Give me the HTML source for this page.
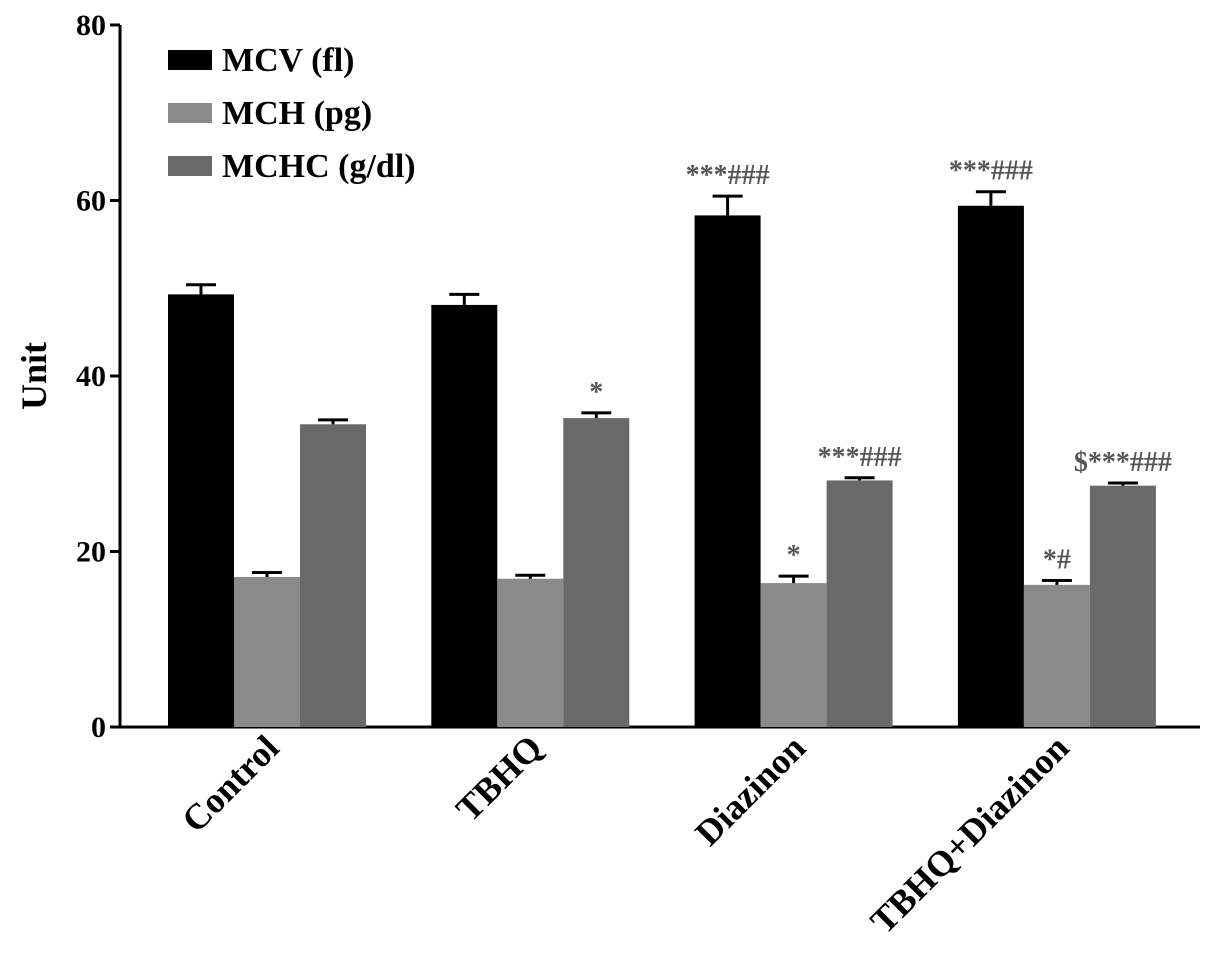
<!DOCTYPE html>
<html><head><meta charset="utf-8"><style>
body{margin:0;background:#fff}
svg text{font-family:"Liberation Serif",serif;font-weight:bold}
</style></head><body>
<svg id="chart" width="1205" height="956" xmlns="http://www.w3.org/2000/svg"></svg>
<script>
const categories=["Control","TBHQ","Diazinon","TBHQ+Diazinon"];
const seriesNames=["MCV (fl)","MCH (pg)","MCHC (g/dl)"];
const mcv=[49.3,48.1,58.3,59.4];
const mcvErr=[1.1,1.2,2.2,1.6];
const mch=[17.1,16.9,16.4,16.2];
const mchErr=[0.5,0.4,0.8,0.5];
const mchc=[34.5,35.2,28.1,27.5];
const mchcErr=[0.5,0.6,0.3,0.3];
const annMcv=["","","***###","***###"];
const annMch=["","","*","*#"];
const annMchc=["","*","***###","$***###"];
const yTicks=[0,20,40,60,80];
const colors=["#000000","#8a8a8a","#696969"];

const NS="http://www.w3.org/2000/svg";
const svg=document.getElementById('chart');
function el(t,a,p){const e=document.createElementNS(NS,t);for(const k in a)e.setAttribute(k,a[k]);(p||svg).appendChild(e);return e;}
const y0=727,yTop=25,yMax=80;
function Y(v){return y0-(v/yMax)*(y0-yTop);}
const groupStart=168,groupStep=263.3,barW=66;
function X(g,s){return groupStart+g*groupStep+s*barW;}

let a=el('line',{x1:120,y1:yTop,x2:120,y2:y0+1,stroke:'#000','stroke-width':3});

a=el('line',{x1:119,y1:y0,x2:1200,y2:y0,stroke:'#000','stroke-width':3});

yTicks.forEach(t=>{
  const l=el('line',{x1:110,y1:Y(t),x2:120,y2:Y(t),stroke:'#000','stroke-width':3});
  
  const tx=el('text',{x:106,y:Y(t)+10,'text-anchor':'end','font-size':30});
  tx.textContent=t;
  
});
const yt=el('text',{x:0,y:0,'font-size':36,'text-anchor':'middle',transform:'translate(46,376) rotate(-90)'});
yt.textContent='Unit';


const series=[[mcv,mcvErr,annMcv],[mch,mchErr,annMch],[mchc,mchcErr,annMchc]];
categories.forEach((c,g)=>{
  series.forEach((s,i)=>{
    const v=s[0][g],e=s[1][g],x=X(g,i);
    const r=el('rect',{x:x,y:Y(v),width:barW,height:y0-Y(v),fill:colors[i]});
    
    
    const cx=x+barW/2;
    const eb=el('path',{d:`M${cx} ${Y(v)}V${Y(v+e)}M${cx-15} ${Y(v+e)}H${cx+15}`,stroke:'#000','stroke-width':3,fill:'none'});
    
    if(s[2][g]){
      const t=el('text',{x:cx,y:Y(v+e)-12,'text-anchor':'middle','font-size':28,fill:'#555','font-weight':'normal'});
      t.textContent=s[2][g];
      
    }
  });
  const lx=X(g,1)+barW/2+14;
  const cl=el('text',{x:0,y:0,'text-anchor':'end','font-size':36,transform:`translate(${lx},750) rotate(-45)`});
  cl.textContent=c;
  
});

seriesNames.forEach((n,i)=>{
  const ly=50+i*53;
  const r=el('rect',{x:168,y:ly,width:44,height:20,fill:colors[i]});
  
  const t=el('text',{x:222,y:ly+21,'font-size':34});
  t.textContent=n;
  
});
</script>
</body></html>
